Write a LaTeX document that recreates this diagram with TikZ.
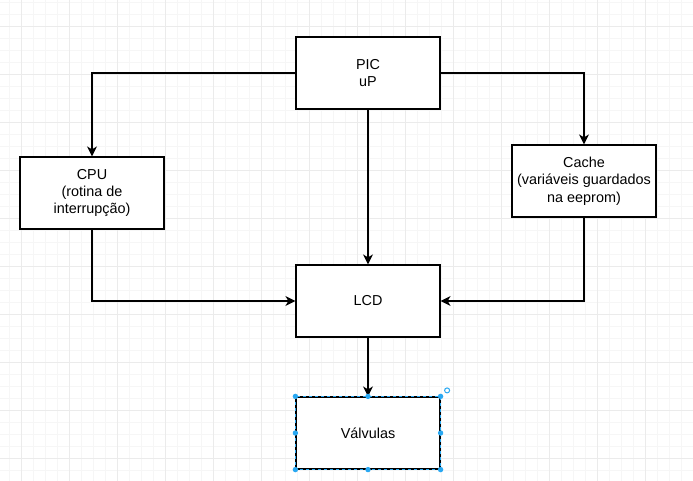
\documentclass[tikz,border=0pt]{standalone}
\usepackage{fontspec}
\setmainfont{Liberation Sans}
\usetikzlibrary{arrows.meta}
\definecolor{gridminor}{HTML}{F6F6F6}
\definecolor{gridmajor}{HTML}{EBEBEB}
\definecolor{selblue}{HTML}{29A8F2}
\tikzset{
  box/.style={draw=black, line width=1.2pt, fill=white, minimum width=144pt, minimum height=72pt,
    align=center, inner sep=0pt, font=\fontsize{14.4}{17.28}\selectfont},
  arr/.style={draw=black, line width=1.2pt, -{Stealth[length=10pt,width=10pt,inset=3pt]}},
  minorline/.style={draw=gridminor, line width=0.8pt},
  majorline/.style={draw=gridmajor, line width=0.8pt},
  handle/.style={fill=selblue},
}
\begin{document}
\begin{tikzpicture}[x=1pt,y=-1pt]
\useasboundingbox (0,0) rectangle (693,481);
\fill[white] (0,0) rectangle (693,481);
% grid
\foreach \i in {0,...,57} {\draw[minorline] (9.5+12*\i,0) -- (9.5+12*\i,481);}
\foreach \i in {0,...,40} {\draw[minorline] (0,2+12*\i) -- (693,2+12*\i);}
\foreach \i in {0,...,14} {\draw[majorline] (21.5+48*\i,0) -- (21.5+48*\i,481);}
\foreach \i in {0,...,9} {\draw[majorline] (0,26+48*\i) -- (693,26+48*\i);}
% boxes
\node[box] (pic) at (368,73) {PIC\\uP};
\node[box] (cpu) at (92,193) {CPU\\(rotina de\\interrupção)};
\node[box] (cache) at (584,181) {Cache\\(variáveis guardados\\na eeprom)};
\node[box] (lcd) at (368,301) {LCD};
\node[box] (valv) at (368,433) {Válvulas};
% connectors
\draw[arr] (pic.west) -| (cpu.north);
\draw[arr] (pic.east) -| (cache.north);
\draw[arr] (pic.south) -- (lcd.north);
\draw[arr] (cpu.south) |- (lcd.west);
\draw[arr] (cache.south) |- (lcd.east);
\draw[arr] (lcd.south) -- (valv.north);
% selection marks on Valvulas
\draw[selblue, line width=0.4pt, dash pattern=on 3pt off 3pt] (valv.north west) rectangle (valv.south east);
\foreach \a in {north west,north,north east,west,east,south west,south,south east}
  {\fill[handle] (valv.\a) circle (2.7pt);}
\coordinate (rot) at ([xshift=6.5pt,yshift=6pt]valv.north east);
\draw[selblue, line width=1pt] (rot) circle (2.5pt);
\end{tikzpicture}
\end{document}
